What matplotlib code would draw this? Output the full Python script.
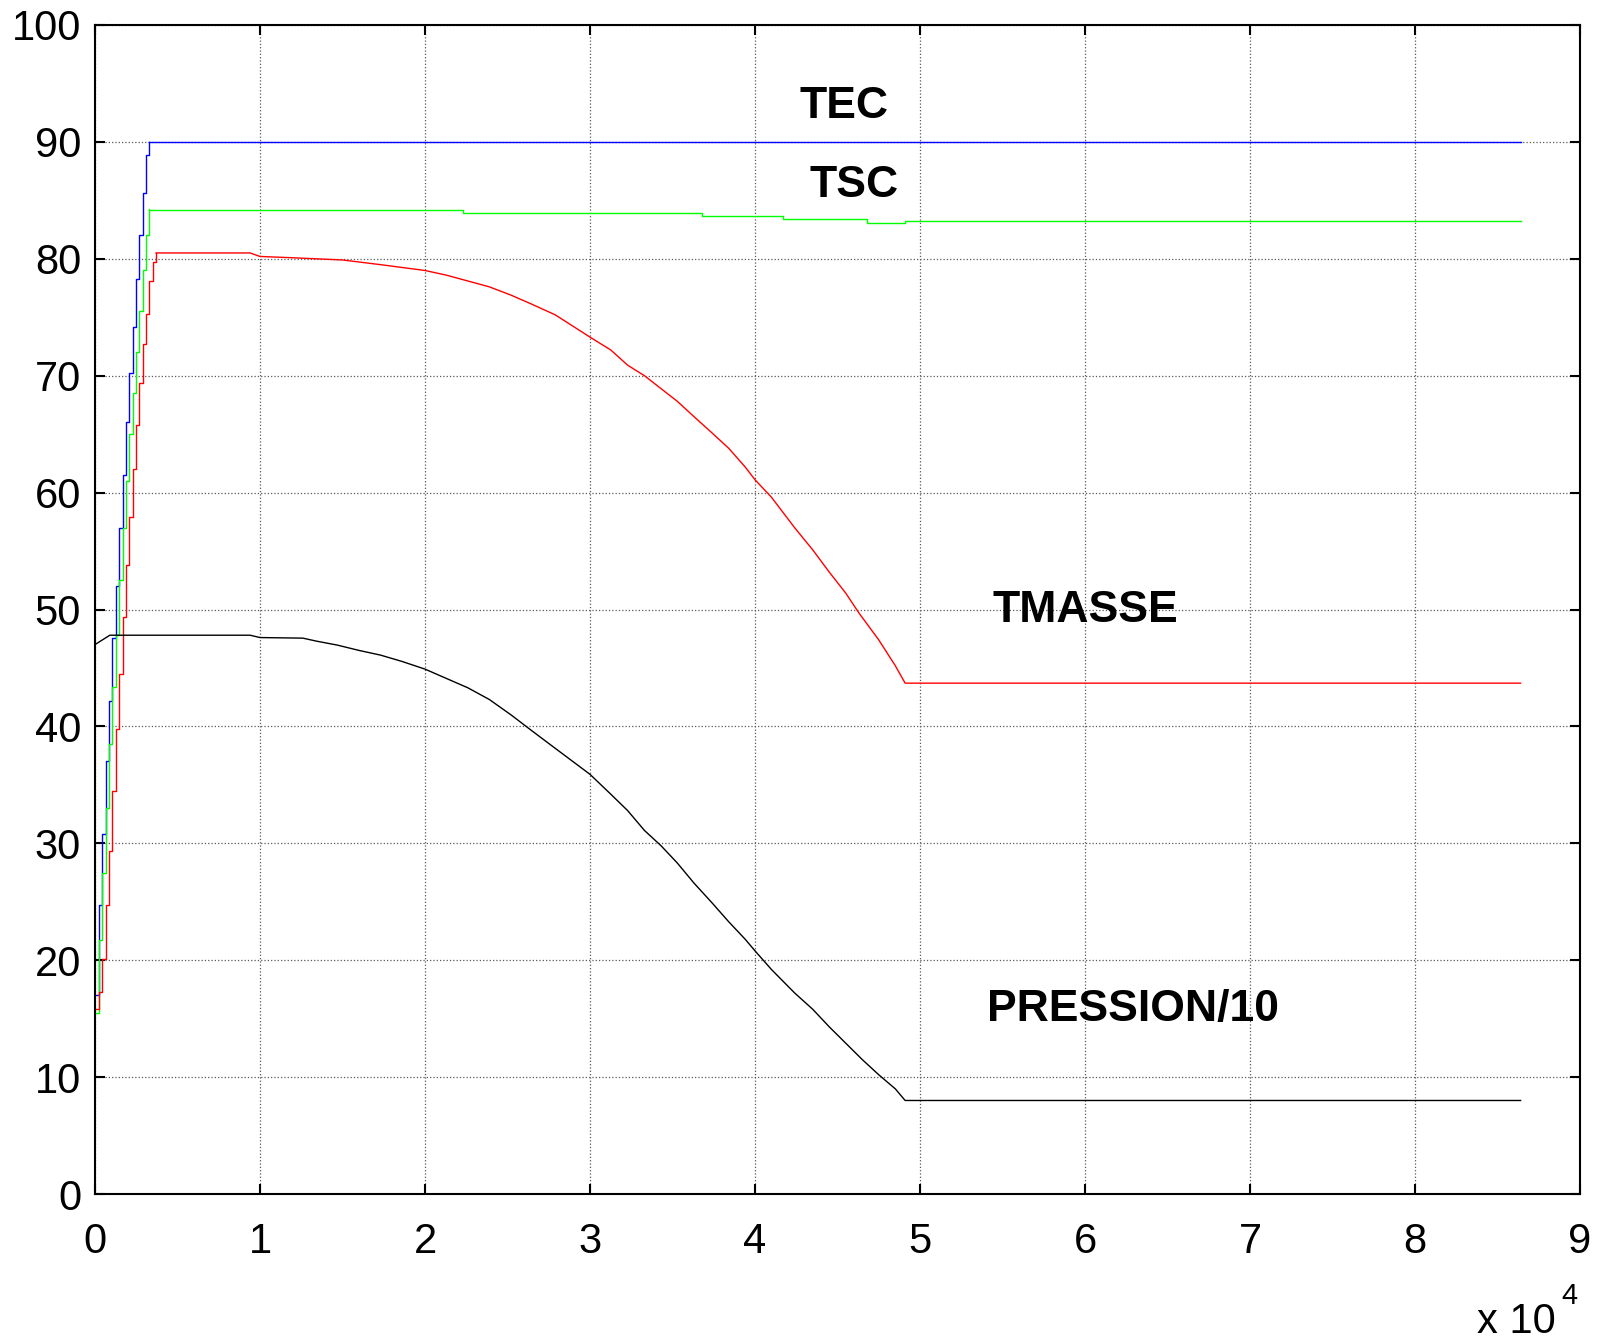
import matplotlib
matplotlib.use("Agg")
import matplotlib.pyplot as plt
import numpy as np

plt.rcParams['font.family'] = ['Liberation Sans', 'DejaVu Sans']

# time in seconds
# start-up staircase (heating ramp)
t_ramp = [0, 240, 440, 640, 850, 1050, 1250, 1470, 1680, 1880, 2080,
          2280, 2480, 2690, 2890, 3090, 3300]
tec_ramp = [17, 24.7, 30.8, 37, 42.2, 47.6, 52, 57, 61.5, 66, 70.2,
            74.2, 78.3, 82, 85.6, 88.9, 90]
tsc_ramp = [15.5, 21.7, 27.5, 33, 38.5, 43.4, 47.8, 52.5, 57, 61, 65,
            68.5, 72, 75.5, 79, 82, 84.3]
t_ramp_m = t_ramp + [3500, 3700]
tmasse_ramp = [15.8, 17.3, 20.1, 24.7, 29.3, 34.5, 39.8, 44.5, 49.4, 53.8,
               57.9, 62, 65.8, 69.4, 72.7, 75.3, 78.1, 79.7, 80.5]

# after the ramp
t_tec = [3300, 86400]
tec = [90, 90]

t_tsc = [3300, 22300, 36800, 41700, 46800, 49100, 86400]
tsc = [84.2, 83.9, 83.7, 83.4, 83.1, 83.2, 83.2]

t_tmasse = [3700, 9400, 10000, 11800, 15000, 17300, 20000, 21300, 22600,
            23900, 25200, 26500, 27900, 30000, 31260, 32280, 33300, 34300,
            35300, 36300, 37400, 38400, 39400, 40000, 41000, 42400, 43500,
            44500, 45500, 46300, 47500, 48500, 49100, 86400]
tmasse = [80.5, 80.5, 80.2, 80.1, 79.9, 79.5, 79.0, 78.6, 78.1,
          77.6, 76.9, 76.1, 75.2, 73.3, 72.2, 70.9, 70.0, 68.9,
          67.8, 66.5, 65.1, 63.8, 62.2, 61.1, 59.6, 57.0, 55.1,
          53.2, 51.4, 49.7, 47.4, 45.2, 43.7, 43.7]

t_pres = [0, 900, 9400, 10000, 12600, 13400, 14700, 16000, 17300, 18600,
          20000, 21300, 22600, 23900, 25200, 26500, 28200, 30000, 31260,
          32280, 33300, 34300, 35300, 36300, 37400, 38400, 39400, 40000,
          41000, 42400, 43500, 44500, 45500, 46500, 47500, 48500, 49100,
          86400]
pression = [47.0, 47.8, 47.8, 47.6, 47.55, 47.3, 46.95, 46.5, 46.1, 45.56,
            44.9, 44.1, 43.3, 42.3, 41.0, 39.6, 37.8, 35.9, 34.2,
            32.8, 31.1, 29.8, 28.3, 26.6, 24.9, 23.3, 21.8, 20.8,
            19.2, 17.2, 15.8, 14.3, 12.9, 11.5, 10.2, 9.0, 8.0,
            8.0]

labels = ["TEC", "TSC", "TMASSE", "PRESSION/10"]
label_pos = [(45400, 93.0), (46000, 86.3), (60000, 49.9), (62900, 15.8)]

W, H = 1597, 1339
fig = plt.figure(figsize=(W / 100, H / 100), dpi=100)
ax = fig.add_axes([95 / W, (H - 1194) / H, (1580 - 95) / W, (1194 - 25) / H])

lw = 1.0
ax.plot(t_ramp, tec_ramp, color='#0000ff', lw=lw, drawstyle='steps-post')
ax.plot(t_tec, tec, color='#0000ff', lw=lw)
ax.plot(t_ramp, tsc_ramp, color='#00ff00', lw=lw, drawstyle='steps-post')
ax.plot(t_tsc, tsc, color='#00ff00', lw=lw, drawstyle='steps-post')
ax.plot(t_ramp_m, tmasse_ramp, color='#ff0000', lw=lw, drawstyle='steps-post')
ax.plot(t_tmasse, tmasse, color='#ff0000', lw=lw)
ax.plot(t_pres, pression, color='black', lw=lw)

for s, (x, y) in zip(labels, label_pos):
    ax.text(x, y, s, fontsize=32, fontweight='bold', ha='center', va='center')

ax.set_xlim(0, 90000)
ax.set_ylim(0, 100)
ax.set_xticks(np.arange(0, 90001, 10000))
ax.set_xticklabels([str(i) for i in range(10)])
ax.set_yticks(np.arange(0, 101, 10))
ax.grid(True, linestyle=':', color='0.35', lw=0.9)
ax.tick_params(direction='in', length=7, width=1.5, labelsize=30,
               top=True, right=True)
ax.tick_params(axis='x', pad=20)
ax.tick_params(axis='y', pad=10)
for sp in ax.spines.values():
    sp.set_linewidth(1.5)

fig.text(1477 / W, (H - 1333) / H, "x 10", fontsize=30, va='baseline')
fig.text(1561 / W, (H - 1304) / H, "4", fontsize=21, va='baseline')

fig.savefig("out.png", dpi=100)
